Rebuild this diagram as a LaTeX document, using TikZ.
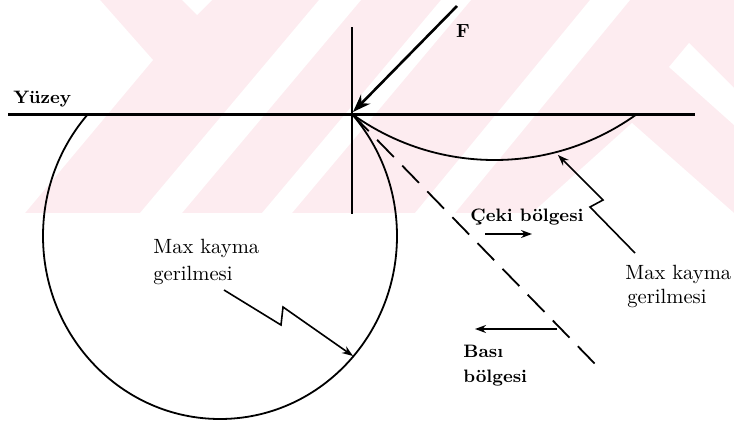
\documentclass[tikz,border=0pt]{standalone}
\usetikzlibrary{arrows.meta}
\definecolor{wmpink}{RGB}{253,236,240}
\begin{document}
\begin{tikzpicture}[x=0.5pt,y=-0.5pt,
  lbl/.style={inner sep=0pt, anchor=base west, font=\fontsize{10.3}{13}\selectfont},
  blbl/.style={inner sep=0pt, anchor=base west, font=\bfseries\fontsize{9}{12.5}\selectfont},
  curve/.style={line width=0.9pt},
  ptr/.style={line width=0.8pt, -{Stealth[length=5.5pt,width=4pt]}},
  wm/.style={fill=white, draw=none}
]
\useasboundingbox (0,0) rectangle (734,423);
% faint watermark band
\fill[wmpink] (0,0) rectangle (734,213);
\fill[wm] (0,0) -- (100,0) -- (153,60) -- (25,213) -- (0,213) -- cycle;
\fill[wm] (182,0) -- (212,0) -- (197,15) -- cycle;
\fill[wm] (140,213) -- (182,213) -- (361,0) -- (319,0) -- cycle;
\fill[wm] (262,213) -- (292,213) -- (471,0) -- (441,0) -- cycle;
\fill[wm] (415,213) -- (455,213) -- (630,0) -- (590,0) -- cycle;
\fill[wm] (669,67) -- (689,43) -- (734,88) -- (734,125) -- cycle;
\fill[wm] (532,213) -- (632,123) -- (734,213) -- cycle;

% coordinates
\coordinate (O) at (352,114);
\coordinate (sL) at (8,114);
\coordinate (sR) at (695,114);
\coordinate (vT) at (352,27);
\coordinate (vB) at (352,214);
\coordinate (Fs) at (457,6);
\coordinate (Fe) at (353,112);
\coordinate (dE) at (598,367);

% surface and axes
\draw[line width=1.5pt] (sL) -- (sR);
\draw[line width=1pt] (vT) -- (vB);

% left contour (ellipse below the surface)
\begin{scope}
  \clip (0,114) rectangle (734,423);
  \draw[curve] (220,236) ellipse [x radius=177, y radius=183];
\end{scope}
% right contour
\begin{scope}
  \clip (352,114) rectangle (700,220);
  \draw[curve] (494.5,-83.7) circle [radius=243.7];
\end{scope}

% dashed line
\draw[line width=0.9pt, dash pattern=on 12pt off 6pt] (O) -- (dE);

% force
\draw[line width=1.3pt, -{Stealth[length=9pt,width=6.5pt]}] (Fs) -- (Fe);
\node[font=\bfseries\fontsize{9.5}{11}\selectfont, inner sep=0pt] (F) at (463,31) {F};

% labels
\node[blbl] (yz) at (13,103) {Yüzey};
\node[lbl] (lm1) at (153,253) {Max kayma};
\node[lbl] (lm2) at (153,280) {gerilmesi};
\node[lbl] (rm1) at (625,279) {Max kayma};
\node[lbl] (rm2) at (627,303) {gerilmesi};
\node[blbl] (ck) at (470,221) {Çeki bölgesi};
\node[blbl] (bs1) at (463,357) {Bası};
\node[blbl] (bs2) at (463,382) {bölgesi};

% zigzag pointers
\coordinate (a1) at (224,290);
\coordinate (a2) at (281,325);
\coordinate (a3) at (283,307);
\coordinate (a4) at (353,356);
\draw[ptr] (a1) -- (a2) -- (a3) -- (a4);
\coordinate (b1) at (635,253);
\coordinate (b2) at (590,207);
\coordinate (b3) at (603,200);
\coordinate (b4) at (558,155);
\draw[ptr] (b1) -- (b2) -- (b3) -- (b4);

% region arrows
\coordinate (c1) at (485,234);
\coordinate (c2) at (532,234);
\draw[ptr] (c1) -- (c2);
\coordinate (d1) at (557,329);
\coordinate (d2) at (475,329);
\draw[ptr] (d1) -- (d2);
\end{tikzpicture}
\end{document}
